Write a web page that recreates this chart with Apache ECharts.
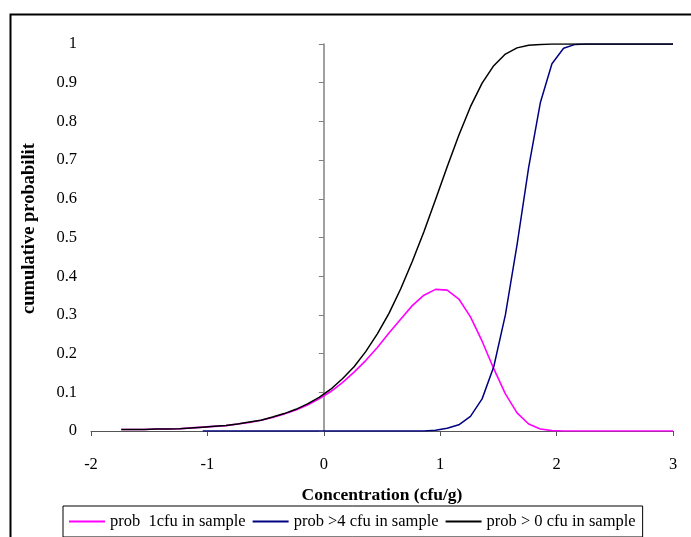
<!DOCTYPE html>
<html>
<head>
<meta charset="utf-8">
<script src="https://cdn.jsdelivr.net/npm/echarts@6/dist/echarts.min.js"></script>
<style>html,body{margin:0;padding:0;background:#fff}#c{width:691px;height:537px}</style>
</head>
<body>
<div id="c"></div>
<script>
// Data
var xValues = [-1.74,-1.64,-1.54,-1.44,-1.34,-1.24,-1.14,-1.04,-0.94,-0.84,-0.74,-0.64,-0.54,-0.44,-0.34,-0.24,-0.14,-0.04,0.06,0.16,0.26,0.36,0.46,0.56,0.66,0.76,0.86,0.96,1.06,1.16,1.26,1.36,1.46,1.56,1.66,1.76,1.86,1.96,2.06,2.16,2.26,2.36,2.46,2.56,2.66,2.76,2.86,2.96,3.0];
var probOne = [0.004,0.004,0.004,0.005,0.005,0.006,0.008,0.010,0.012,0.014,0.018,0.022,0.028,0.035,0.044,0.054,0.067,0.083,0.102,0.125,0.152,0.182,0.216,0.253,0.289,0.324,0.351,0.366,0.364,0.341,0.295,0.232,0.161,0.096,0.047,0.018,0.005,0.001,0,0,0,0,0,0,0,0,0,0,0];
var probMoreFour = [null,null,null,null,null,null,null,0,0,0,0,0,0,0,0,0,0,0,0,0,0,0,0,0,0,0,0,0.002,0.007,0.016,0.038,0.083,0.166,0.300,0.481,0.681,0.848,0.949,0.989,0.999,1,1,1,1,1,1,1,1,1];
var probAny = [0.004,0.004,0.004,0.005,0.005,0.006,0.008,0.010,0.012,0.014,0.018,0.023,0.028,0.036,0.045,0.056,0.070,0.087,0.108,0.135,0.166,0.205,0.251,0.304,0.367,0.438,0.515,0.598,0.683,0.764,0.838,0.899,0.944,0.974,0.990,0.997,0.999,1,1,1,1,1,1,1,1,1,1,1,1];
var seriesNames = ['prob  1cfu in sample','prob >4 cfu in sample','prob > 0 cfu in sample'];
var seriesColors = ['#ff00ff','#000080','#000000'];
var xTicks = {min:-2, max:3, interval:1};
var yTicks = {min:0, max:1, interval:0.1};
var xTitle = 'Concentration (cfu/g)';
var yTitle = 'cumulative probabilit';

function pairs(vals){ return xValues.map(function(x,i){ return [x, vals[i]]; }); }

var FONT = 'Liberation Serif';
var chart = echarts.init(document.getElementById('c'), null, {renderer:'canvas'});
var gridLeft = 91, gridRight = 18, plotW = 691 - gridLeft - gridRight;
var zeroOffset = plotW * (0 - xTicks.min) / (xTicks.max - xTicks.min);

chart.setOption({
  animation:false,
  backgroundColor:'#fff',
  graphic:[{type:'rect', left:8, top:12, shape:{width:720, height:620}, style:{fill:'none', stroke:'#000', lineWidth:2}, z:-1}],
  grid:{left:gridLeft, right:gridRight, top:44, bottom:106},
  legend:{
    left:63, top:506, orient:'horizontal',
    icon:'rect', itemWidth:36, itemHeight:2, itemGap:7,
    padding:[7,7,7,6],
    borderColor:'#000', borderWidth:1,
    textStyle:{fontFamily:FONT, fontSize:16.5, color:'#000'},
    data:seriesNames
  },
  xAxis:{
    type:'value', min:xTicks.min, max:xTicks.max, interval:xTicks.interval,
    name:xTitle, nameLocation:'middle', nameGap:55,
    nameTextStyle:{fontFamily:FONT, fontSize:17.5, fontWeight:'bold', color:'#000'},
    axisLine:{onZero:false, lineStyle:{color:'#555', width:1}},
    axisTick:{show:true, length:5, lineStyle:{color:'#555'}},
    axisLabel:{margin:25, fontFamily:FONT, fontSize:16.5, color:'#000'},
    splitLine:{show:false}
  },
  yAxis:{
    type:'value', min:yTicks.min, max:yTicks.max, interval:yTicks.interval,
    position:'left', offset:-zeroOffset,
    name:yTitle, nameLocation:'middle', nameGap:zeroOffset + 52,
    nameTextStyle:{fontFamily:FONT, fontSize:18.5, fontWeight:'bold', color:'#000', padding:[0,0,0,18]},
    axisLine:{show:true, onZero:false, lineStyle:{color:'#808080', width:1.5}},
    axisTick:{show:true, length:5, lineStyle:{color:'#808080'}},
    axisLabel:{margin:zeroOffset + 14, align:'right', fontFamily:FONT, fontSize:16.5, color:'#000'},
    splitLine:{show:false}
  },
  series:[
    {name:seriesNames[0], type:'line', symbol:'none', data:pairs(probOne), lineStyle:{color:seriesColors[0], width:1.6}, itemStyle:{color:seriesColors[0]}, z:3},
    {name:seriesNames[1], type:'line', symbol:'none', data:pairs(probMoreFour), lineStyle:{color:seriesColors[1], width:1.5}, itemStyle:{color:seriesColors[1]}, z:4},
    {name:seriesNames[2], type:'line', symbol:'none', data:pairs(probAny), lineStyle:{color:seriesColors[2], width:1.5}, itemStyle:{color:seriesColors[2]}, z:5}
  ]
});
</script>
</body>
</html>
